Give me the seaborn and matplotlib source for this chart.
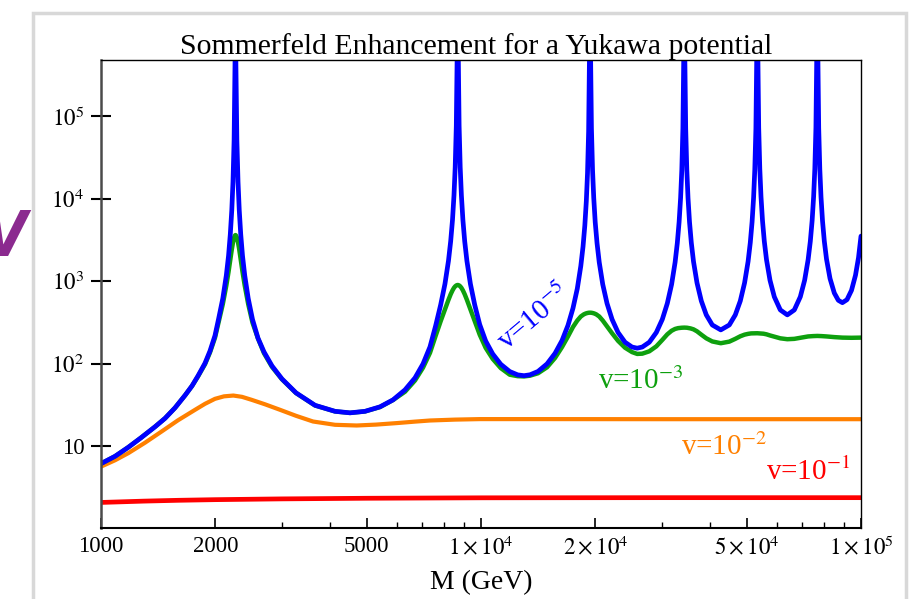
import matplotlib
matplotlib.use("Agg")
import matplotlib.pyplot as plt
import seaborn as sns
import pandas as pd
from matplotlib.ticker import FixedLocator, FixedFormatter, NullLocator
from matplotlib.patches import Rectangle

# ---------------- data (M in GeV, S = enhancement) ----------------
blue_M = [1000, 1089, 1180, 1274, 1387, 1474, 1566, 1664, 1736, 1800, 1878, 1936, 1995, 2038, 2092,
          2137, 2166, 2189, 2209, 2225, 2240, 2252, 2259,
          2265, 2278, 2294, 2311, 2332, 2357, 2389, 2440, 2504, 2589, 2685, 2818, 2994, 3261, 3659,
          4129, 4522, 4952, 5422, 5868, 6310, 6704, 7037, 7341, 7598, 7832, 8038, 8211, 8322, 8414,
          8490, 8552, 8610, 8657, 8685,
          8710, 8758, 8816, 8880, 8961, 9059, 9181, 9378, 9626, 9921, 10289, 10735, 11270, 11900,
          12491, 12979, 13460, 14125, 14920, 15660, 16340, 16940, 17462, 17924, 18308, 18556, 18759,
          18930, 19068, 19196, 19301, 19360,
          19420, 19527, 19657, 19801, 19977, 20200, 20471, 20910, 21461, 22127, 22945, 23932, 24970,
          25764, 26573, 27727, 28928, 29999, 30923, 31739, 32419, 32853, 33214, 33518, 33763, 33988,
          34170, 34280,
          34380, 34569, 34801, 35055, 35375, 35763, 36242, 37019, 38000, 39162, 40610, 42757, 45022,
          46688, 48121, 49390, 50449, 51126, 51686, 52159, 52540, 52896, 53185, 53350,
          53510, 53801, 54161, 54557, 55054, 55659, 56404, 57613, 59140, 61330, 63990, 66760, 69230,
          71062, 72585, 73560, 74367, 75044, 75592, 76099, 76510, 76740,
          76970, 77395, 77914, 78483, 79198, 80067, 81140, 82880, 85070, 87160, 89340, 91860, 94406,
          96720, 98500, 100000]
blue_S = [6.2, 7.61, 9.78, 12.74, 17.31, 21.93, 29.38, 41.6, 54.2, 71.6, 102, 143.6, 220, 346, 620,
          1180, 2040, 3700, 7300, 16000, 51000, 400000, 2e6,
          400000, 51000, 16000, 7300, 3700, 2040, 1180, 620, 346, 205, 139.7, 94.6, 65.8, 44.6, 31.5,
          26.65, 25.55, 26.65, 30.2, 36.7, 48.5, 67.7, 100, 160.6, 290, 519, 930, 1770, 3060, 5550,
          11000, 24000, 76500, 600000, 2e6,
          600000, 76500, 24000, 11000, 5550, 3060, 1770, 930, 519, 300, 189, 132, 99, 80.8,
          73.6, 72, 73.8, 81, 100, 134, 192, 293, 473, 816, 1532, 2630, 4740,
          9350, 20400, 65200, 511000, 2e6,
          558000, 71300, 22400, 10250, 5215, 2900, 1700, 919, 540, 346, 240, 183, 160,
          155, 160, 183, 240, 346, 540, 919, 1700, 2900, 5215, 10250, 22400, 71300,
          558000, 2e6,
          557000, 71200, 22400, 10270, 5240, 2935, 1736, 958, 578, 392, 296, 258, 296,
          392, 578, 958, 1736, 2935, 5240, 10270, 22400, 71200, 557000, 2e6,
          572000, 73100, 23000, 10570, 5420, 3051, 1828, 1029, 649, 450, 392, 450, 649,
          1029, 1828, 3051, 5420, 10570, 23000, 73100, 572000, 2e6,
          563000, 72000, 22700, 10460, 5390, 3061, 1858, 1081, 721, 589, 551, 599, 777,
          1184, 1933, 3525]

green_M = [1000, 1089, 1180, 1274, 1387, 1474, 1566, 1664, 1736, 1800, 1878, 1936, 1995, 2038, 2092,
           2137, 2166, 2189, 2209, 2225, 2240, 2252, 2259, 2265, 2278, 2294, 2311, 2332, 2357, 2389,
           2440, 2504, 2589, 2685, 2818, 2994, 3261, 3659, 4129, 4522, 4952, 5422, 5868, 6310, 6704,
           7037, 7341, 7598, 7832, 8038, 8211, 8322, 8414, 8490, 8552, 8610, 8657, 8685, 8710, 8758,
           8816, 8880, 8961, 9059, 9181, 9378, 9626, 9921, 10289, 10735, 11270, 11900, 12491, 12979,
           13460, 14125, 14920, 15660, 16340, 16940, 17462, 17924, 18308, 18645, 18872, 19045, 19196,
           19360, 19527, 19681, 19861, 20103, 20471, 20910, 21461, 22127, 22945, 23932, 24970, 25764,
           26573, 27727, 28928, 29999, 30923, 31739, 32419, 33013, 33721, 34280, 34843, 35590, 36242,
           37019, 38000, 39162, 40610, 42757, 45022, 46688, 48121, 49390, 50449, 51375, 53350, 55389,
           56404, 57613, 59140, 61330, 63990, 66760, 69230, 71062, 72585, 74818, 76740, 78720, 81140,
           85070, 89340, 94406, 100000]
green_S = [6.2, 7.61, 9.78, 12.74, 17.31, 21.93, 29.38, 41.6, 54, 70.5, 99, 138, 207, 316, 530,
           890, 1306, 1832, 2429, 2960, 3390, 3597, 3630, 3597, 3390, 2960, 2429, 1832, 1306, 890,
           530, 316, 203, 134.5, 92, 65, 44.3, 31.4, 26.6, 25.5, 26.6, 30, 36.5, 46, 63,
           90, 136, 219, 329, 458, 597, 697, 776, 834, 869, 891, 900, 902, 900, 891,
           869, 834, 776, 697, 597, 458, 329, 226, 156, 115, 89, 74, 71, 70.5,
           72, 77, 91, 118, 160, 215, 280, 335, 375, 398, 408, 413, 416,
           417, 416, 413, 408, 398, 375, 335, 285, 235, 190, 157, 139, 132,
           133, 142, 163, 195, 228, 252, 265, 271, 274, 275, 274, 269, 262,
           248, 226, 204, 187, 178, 186, 201, 216, 226, 231, 234, 235, 232,
           228, 221, 214, 204, 199, 201, 207, 212, 215, 217, 218, 217, 215,
           211, 208, 207, 208]

orange_M = [1000, 1089, 1180, 1305, 1444, 1594, 1768, 1878, 1995, 2107, 2230, 2350, 2492, 2702,
            2959, 3261, 3614, 4129, 4709, 5292, 6000, 6704, 7341, 8542, 9940, 15000, 30000, 100000]
orange_S = [5.7, 6.81, 8.3, 11.09, 15.19, 20.74, 27.79, 32.84, 37.75, 40.46, 41.37, 39.9, 36.7, 32.4,
            27.8, 23.5, 20.06, 18.3, 17.95, 18.4, 19.19, 20.0, 20.63, 21.15, 21.45, 21.45, 21.4, 21.4]

red_M = [1000, 1300, 1600, 2000, 3000, 5000, 10000, 30000, 100000]
red_S = [2.10, 2.18, 2.23, 2.27, 2.32, 2.36, 2.39, 2.40, 2.40]

x_ticks = [1000, 2000, 5000, 10000, 20000, 50000, 100000]
x_ticklabels = ['1000', '2000', '5000', r'$1\times10^{4}$', r'$2\times10^{4}$',
                r'$5\times10^{4}$', r'$1\times10^{5}$']
x_minor = [3000, 4000, 6000, 7000, 8000, 9000, 30000, 40000, 60000, 70000, 80000, 90000]
y_ticks = [10, 100, 1000, 10000, 100000]
y_ticklabels = ['10', r'$10^{2}$', r'$10^{3}$', r'$10^{4}$', r'$10^{5}$']

# ---------------- style ----------------
sns.set_theme(style="white")
plt.rcParams['font.family'] = ['Liberation Serif', 'DejaVu Serif']
plt.rcParams['mathtext.fontset'] = 'stix'
plt.rcParams['text.color'] = 'black'
plt.rcParams['axes.labelcolor'] = 'black'
plt.rcParams['xtick.color'] = 'black'
plt.rcParams['ytick.color'] = 'black'

W, H = 917, 599
fig = plt.figure(figsize=(W / 100, H / 100), dpi=100)
fig.patch.set_facecolor('white')

# slide card frame (background)
card = Rectangle((33 / W, -0.2), (906 - 33) / W, 1.2 - 13 / H,
                 transform=fig.transFigure, facecolor='white',
                 edgecolor='#d8d8d8', linewidth=2.5, zorder=-10)
fig.patches.append(card)
fig.text(27 / W, 1 - 239 / H, 'V', color='#8b2a8f', fontsize=45, fontweight='bold',
         fontstyle='italic', fontstretch='condensed', family='DejaVu Sans',
         ha='right', va='center', zorder=-5)

ax = fig.add_axes([101 / W, 1 - 528 / H, 760 / W, (528 - 59.5) / H])
ax.set_zorder(5)
ax.set_facecolor('white')

series = [
    (red_M, red_S, '#ff0000', 3.4),
    (orange_M, orange_S, '#ff8000', 3.0),
    (green_M, green_S, '#0ea00e', 3.2),
    (blue_M, blue_S, '#0000ff', 3.4),
]
for xs, ys, col, lw in series:
    df = pd.DataFrame({'M': xs, 'S': ys})
    sns.lineplot(data=df, x='M', y='S', ax=ax, color=col, linewidth=lw,
                 estimator=None, sort=False)

ax.set_xscale('log')
ax.set_yscale('log')
ax.set_xlim(1000, 100000)
ax.set_ylim(1.03, 4.85e5)

ax.xaxis.set_major_locator(FixedLocator(x_ticks))
ax.xaxis.set_major_formatter(FixedFormatter(x_ticklabels))
ax.xaxis.set_minor_locator(FixedLocator(x_minor))
ax.yaxis.set_major_locator(FixedLocator(y_ticks))
ax.yaxis.set_major_formatter(FixedFormatter(y_ticklabels))
ax.yaxis.set_minor_locator(NullLocator())

ax.tick_params(axis='x', which='major', bottom=True, top=False, direction='in',
               length=7, width=1.2, labelsize=16.5, pad=6)
ax.tick_params(axis='x', which='minor', bottom=True, top=False, direction='in',
               length=4, width=1.0)
ax.tick_params(axis='y', which='major', left=True, right=False, direction='inout',
               length=14, width=1.5, labelsize=16.5, pad=5)

for side in ['top', 'right']:
    ax.spines[side].set_color('black')
    ax.spines[side].set_linewidth(1.0)
ax.spines['left'].set_color('#4a4a4a')
ax.spines['left'].set_linewidth(1.8)
ax.spines['bottom'].set_color('black')
ax.spines['bottom'].set_linewidth(1.5)

ax.set_title('Sommerfeld Enhancement for a Yukawa potential', fontsize=21.4, pad=2, x=0.4934)
ax.set_xlabel('M (GeV)', fontsize=20, labelpad=7)
ax.set_ylabel('')

ax.text(13790, 365, r'v=10$^{-5}$', color='#0000ff', fontsize=21, rotation=40,
        rotation_mode='anchor', ha='center', va='center')
ax.text(26370, 61, r'v=10$^{-3}$', color='#0ea00e', fontsize=21, ha='center', va='center')
ax.text(43600, 9.7, r'v=10$^{-2}$', color='#ff8000', fontsize=21, ha='center', va='center')
ax.text(72540, 4.95, r'v=10$^{-1}$', color='#ff0000', fontsize=21, ha='center', va='center')

fig.savefig('out.png', dpi=100, facecolor='white')
